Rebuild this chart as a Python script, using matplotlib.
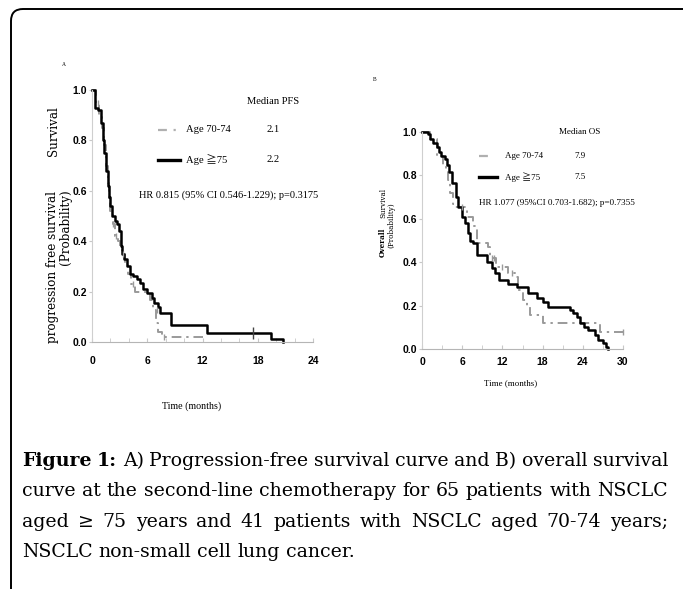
import matplotlib
matplotlib.use('Agg')
import matplotlib.pyplot as plt
from matplotlib.patches import FancyBboxPatch
from matplotlib.transforms import IdentityTransform
from matplotlib.lines import Line2D
from matplotlib.ticker import MultipleLocator

# ---------------- data ----------------
pfs75_t = [0, 0.3, 0.6, 1.0, 1.2, 1.35, 1.5, 1.7, 1.85, 2.0, 2.2, 2.5, 2.7, 2.9, 3.1, 3.3, 3.5, 3.8,
           4.1, 4.5, 4.9, 5.2, 5.5, 6.0, 6.5, 6.7, 7.2, 7.4, 8.6, 12.5, 19.4, 20.7]
pfs75_s = [1.0, 0.93, 0.92, 0.87, 0.80, 0.75, 0.68, 0.62, 0.575, 0.54, 0.50, 0.48, 0.47, 0.44, 0.38,
           0.35, 0.33, 0.30, 0.27, 0.26, 0.25, 0.235, 0.21, 0.195, 0.175, 0.155, 0.14, 0.115, 0.067,
           0.036, 0.012, 0.0]
pfs70_t = [0, 0.4, 0.8, 1.1, 1.3, 1.5, 1.7, 1.9, 2.0, 2.3, 2.5, 2.8, 3.0, 3.3, 3.6, 3.9, 4.2, 4.7,
           6.3, 6.6, 7.0, 7.2, 7.6, 7.7, 12.0]
pfs70_s = [1.0, 0.95, 0.90, 0.85, 0.78, 0.70, 0.63, 0.56, 0.52, 0.47, 0.42, 0.40, 0.37, 0.35, 0.31,
           0.27, 0.23, 0.20, 0.167, 0.127, 0.075, 0.04, 0.024, 0.02, 0.02]
pfs70_cens_t = [0.6, 2.3, 2.6, 3.4, 4.4, 7.1, 7.8]
pfs70_cens_s = [0.95, 0.47, 0.42, 0.35, 0.23, 0.127, 0.02]
pfs75_cens_t = [17.5]
pfs75_cens_s = [0.036]

os75_t = [0, 0.9, 1.2, 1.7, 2.2, 2.6, 2.9, 3.4, 3.7, 4.0, 4.5, 5.0, 5.4, 6.0, 6.4, 6.8, 7.2, 7.6,
          8.2, 9.7, 10.4, 10.9, 11.5, 12.8, 14.2, 15.8, 17.1, 18.0, 18.8, 22.1, 22.5, 23.1, 23.6,
          24.2, 24.8, 25.8, 26.3, 27.0, 27.4, 27.7]
os75_s = [1.0, 0.99, 0.97, 0.95, 0.93, 0.91, 0.89, 0.876, 0.85, 0.815, 0.765, 0.70, 0.655, 0.61,
          0.58, 0.535, 0.50, 0.49, 0.435, 0.40, 0.373, 0.35, 0.32, 0.30, 0.285, 0.26, 0.235, 0.217,
          0.195, 0.18, 0.165, 0.148, 0.12, 0.10, 0.087, 0.065, 0.04, 0.026, 0.01, 0.0]
os70_t = [0, 1.2, 2.2, 3.1, 3.6, 3.9, 4.2, 4.6, 4.9, 6.7, 7.6, 8.2, 9.9, 10.2, 11.1, 12.9, 13.9,
          14.3, 15.1, 15.6, 16.1, 18.0, 26.6, 30.0]
os70_s = [1.0, 0.97, 0.89, 0.85, 0.82, 0.78, 0.72, 0.67, 0.655, 0.61, 0.565, 0.49, 0.47, 0.42,
          0.38, 0.35, 0.33, 0.27, 0.225, 0.194, 0.157, 0.12, 0.078, 0.078]
os70_cens_t = [6.0, 10.5, 10.8, 12.0, 13.5, 30.0]
os70_cens_s = [0.655, 0.42, 0.42, 0.38, 0.35, 0.078]

yticks = [0.0, 0.2, 0.4, 0.6, 0.8, 1.0]
ytick_labels = ['0.0', '0.2', '0.4', '0.6', '0.8', '1.0']
xticks_A = [0, 6, 12, 18, 24]
xticks_B = [0, 6, 12, 18, 24, 30]

legend_labels = ['Age 70-74', 'Age \u226775']
pfs_medians = ['2.1', '2.2']
os_medians = ['7.9', '7.5']
hr_A = 'HR 0.815 (95% CI 0.546-1.229); p=0.3175'
hr_B = 'HR 1.077 (95%CI 0.703-1.682); p=0.7355'

caption_lines = [
    "Figure 1: A) Progression-free survival curve and B) overall survival",
    "curve at the second-line chemotherapy for 65 patients with NSCLC",
    "aged \u2265 75 years and 41 patients with NSCLC aged 70-74 years;",
    "NSCLC non-small cell lung cancer.",
]

# ---------------- figure ----------------
W, H = 683, 589
fig = plt.figure(figsize=(W / 100, H / 100), dpi=100)
fig.patch.set_facecolor('white')


def fx(x):
    return x / W


def fy(y):
    return 1 - y / H


SERIF = ['Liberation Serif', 'Noto Sans CJK JP', 'DejaVu Serif']
TICKF = ['Liberation Sans Narrow', 'Liberation Sans', 'DejaVu Sans']
GRAY = '#9a9a9a'
DASH = (0, (5, 2.5, 1.2, 2.5))

# frame (left and top edges with rounded corner)
frame = FancyBboxPatch((11, -40), 760, H - 9 + 40,
                       boxstyle="round,pad=0,rounding_size=12",
                       transform=IdentityTransform(), fill=False,
                       edgecolor='black', lw=1.4)
fig.patches.append(frame)


def make_axes(l, r, t, b, xmax, xticks, minor, xpad):
    ax = fig.add_axes([fx(l), fy(b), fx(r) - fx(l), fy(t) - fy(b)])
    ax.set_xlim(0, xmax)
    ax.set_ylim(0, 1.0)
    for s in ['top', 'right']:
        ax.spines[s].set_visible(False)
    ax.spines['left'].set_color('#cfcfcf')
    ax.spines['bottom'].set_color('#b5b5b5')
    ax.spines['left'].set_linewidth(0.8)
    ax.spines['bottom'].set_linewidth(0.8)
    ax.set_xticks(xticks)
    ax.set_yticks(yticks)
    ax.set_yticklabels(ytick_labels)
    ax.xaxis.set_minor_locator(MultipleLocator(minor))
    ax.tick_params(axis='x', which='both', direction='in', length=3, color='#c8c8c8', pad=xpad)
    ax.tick_params(axis='y', which='both', direction='out', length=2, color='#c8c8c8', pad=1.5)
    for lab in ax.get_xticklabels() + ax.get_yticklabels():
        lab.set_family(TICKF)
        lab.set_fontweight('bold')
        lab.set_fontsize(7.5)
    ax.patch.set_alpha(0)
    return ax


# ---------- panel A ----------
axA = make_axes(92, 313, 90, 342, 24, xticks_A, 2, 10)
axA.step(pfs70_t, pfs70_s, where='post', color=GRAY, lw=1.4, ls=DASH, clip_on=False)
axA.step(pfs75_t, pfs75_s, where='post', color='black', lw=1.8, clip_on=False)
axA.plot(pfs70_cens_t, pfs70_cens_s, ls='none', marker='|', ms=5, mew=1.0, color=GRAY, clip_on=False)
axA.plot(pfs75_cens_t, pfs75_cens_s, ls='none', marker='|', ms=9, mew=1.0, color='#444444', clip_on=False)

# ---------- panel B ----------
axB = make_axes(422, 623, 132, 349, 30, xticks_B, 3, 6)
axB.step(os70_t, os70_s, where='post', color=GRAY, lw=1.4, ls=DASH, clip_on=False)
axB.step(os75_t, os75_s, where='post', color='black', lw=1.8, clip_on=False)
axB.plot(os70_cens_t, os70_cens_s, ls='none', marker='|', ms=5, mew=1.0, color=GRAY, clip_on=False)

# panel letters
fig.text(fx(64), fy(64), 'A', fontsize=4, family=SERIF, ha='center', va='center')
fig.text(fx(375), fy(80), 'B', fontsize=4, family=SERIF, ha='center', va='center')

# y labels
YL = ['DejaVu Serif']
fig.text(fx(53), fy(131), 'Survival', rotation=90, fontsize=8.6, family=YL, ha='center', va='center')
fig.text(fx(53), fy(267), 'progression free survival', rotation=90, fontsize=8.6, family=YL,
         ha='center', va='center')
fig.text(fx(65.5), fy(227), '(Probability)', rotation=90, fontsize=8.6, family=YL, ha='center',
         va='center')

fig.text(fx(383), fy(203), 'Survival', rotation=90, fontsize=5.2, family=YL, ha='center', va='center')
fig.text(fx(383), fy(242), 'Overall', rotation=90, fontsize=5.2, family=YL, ha='center', va='center',
         fontweight='bold')
fig.text(fx(391), fy(225), '(Probability)', rotation=90, fontsize=5.2, family=YL, ha='center', va='center')

# x labels
fig.text(fx(192), fy(406), 'Time (months)', fontsize=7.2, family=SERIF, ha='center', va='center')
fig.text(fx(511), fy(383), 'Time (months)', fontsize=6.4, family=SERIF, ha='center', va='center')


# legends
def legend(x0, x1, xt, xm, yhead, y1, y2, head, meds, fs, hr, hx, hy, hfs):
    fig.text(fx(xm), fy(yhead), head, fontsize=fs, family=SERIF, ha='center', va='center')
    fig.add_artist(Line2D([fx(x0), fx(x1 - 4)], [fy(y1), fy(y1)], color='#b0b0b0', lw=1.6,
                          ls=(0, (4, 3, 1, 3))))
    fig.add_artist(Line2D([fx(x0), fx(x1)], [fy(y2), fy(y2)], color='black', lw=2.4))
    for yy, lab, m in zip([y1, y2], legend_labels, meds):
        fig.text(fx(xt), fy(yy), lab, fontsize=fs, family=SERIF, ha='left', va='center')
        fig.text(fx(xm), fy(yy), m, fontsize=fs, family=SERIF, ha='center', va='center')
    fig.text(fx(hx), fy(hy), hr, fontsize=hfs, family=SERIF, ha='left', va='center')


legend(158, 180, 186, 273, 102, 130, 160, 'Median PFS', pfs_medians, 7.6, hr_A, 139, 195, 7.5)
legend(479, 497, 505, 580, 132, 156, 177, 'Median OS', os_medians, 6.5, hr_B, 479, 203, 6.6)

# caption (justified)
CAPF = ['DejaVu Serif']
cap_fs = 13.6
left, right = 22, 668
baselines = [466, 496, 527, 557]
renderer = fig.canvas.get_renderer()
for i, line in enumerate(caption_lines):
    words = line.split(' ')
    texts = []
    for j, w in enumerate(words):
        bold = (i == 0 and j < 2)
        t = fig.text(0, fy(baselines[i]), w, fontsize=cap_fs, family=CAPF, ha='left', va='baseline',
                     fontweight='bold' if bold else 'normal')
        texts.append(t)
    widths = [t.get_window_extent(renderer).width for t in texts]
    if i < len(caption_lines) - 1:
        gap = (right - left - sum(widths)) / (len(words) - 1)
    else:
        sp = fig.text(0, 0, 'a a', fontsize=cap_fs, family=CAPF)
        sp2 = fig.text(0, 0, 'aa', fontsize=cap_fs, family=CAPF)
        gap = sp.get_window_extent(renderer).width - sp2.get_window_extent(renderer).width
        sp.remove()
        sp2.remove()
    x = left
    for t, w in zip(texts, widths):
        t.set_x(fx(x))
        x += w + gap

fig.savefig('out.png', dpi=100)
